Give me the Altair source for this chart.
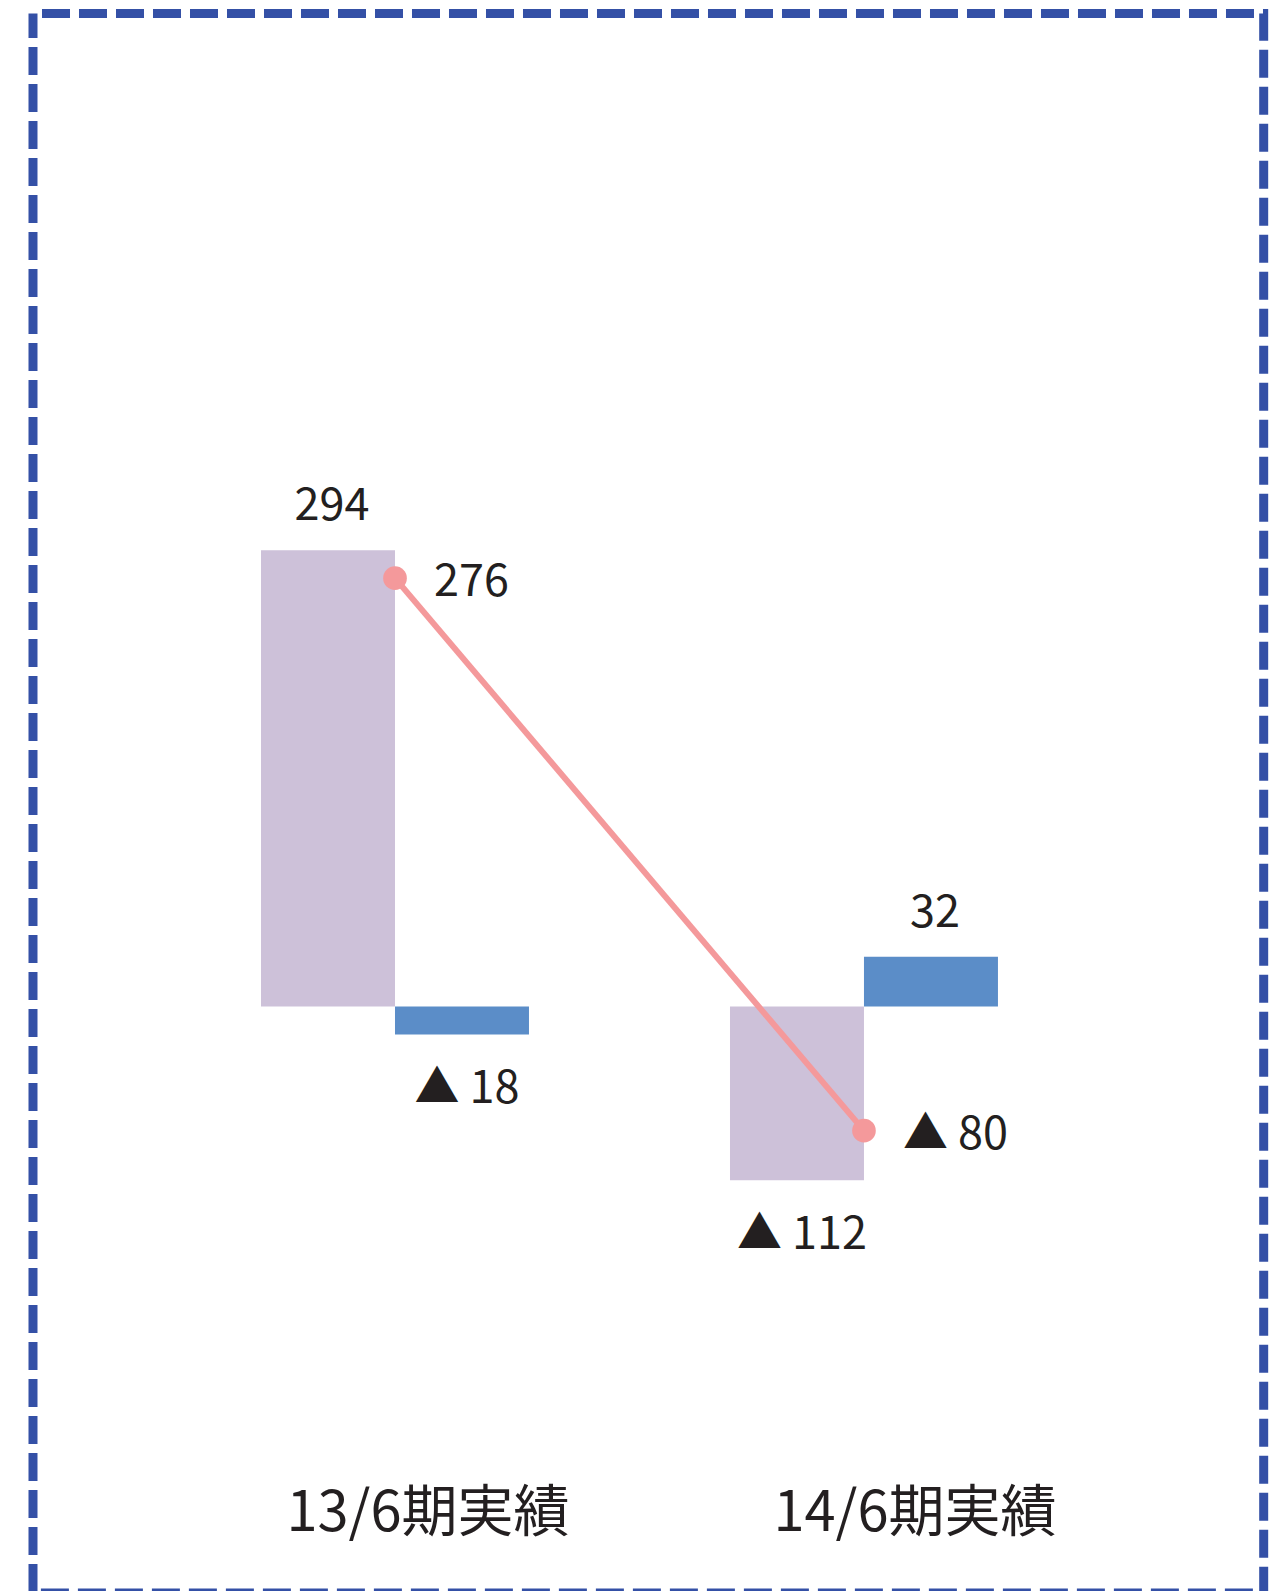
import altair as alt
import pandas as pd

categories = ["13/6期実績", "14/6期実績"]
series_names = ["前期", "増減"]
base_values = [294, -112]
change_values = [-18, 32]
line_values = [276, -80]

bar_colors = ["#CDC1D9", "#5B8DC8"]
pink = "#F4999B"
ink = "#231F20"
label_font = "Noto Sans CJK JP"


def fmt(v):
    return f"{v}" if v >= 0 else f"▲ {abs(v)}"


rows = []
for i, c in enumerate(categories):
    rows.append({"category": c, "series": series_names[0], "value": base_values[i], "label": fmt(base_values[i])})
    rows.append({"category": c, "series": series_names[1], "value": change_values[i], "label": fmt(change_values[i])})
bars_df = pd.DataFrame(rows)

line_df = pd.DataFrame({
    "category": categories,
    "value": line_values,
    "label": [fmt(v) for v in line_values],
})

x_enc = alt.X(
    "category:N",
    sort=categories,
    scale=alt.Scale(paddingInner=0.4286, paddingOuter=0.5264, align=0.4618),
    axis=alt.Axis(
        title=None,
        domain=False,
        ticks=False,
        grid=False,
        labelAngle=0,
        labelFont="Noto Sans CJK JP",
        labelFontSize=56,
        labelColor=ink,
        labelBaseline="middle",
        labelPadding=0,
        labelLimit=0,
        offset=-79,
        labelOffset={"condition": {"test": "datum.value === '13/6期実績'", "value": 33}, "value": 51},
    ),
)
y_enc = alt.Y(
    "value:Q",
    scale=alt.Scale(domain=[-377.9, 639.8], nice=False, zero=False),
    axis=None,
)
xoff = alt.XOffset("series:N", sort=series_names, scale=alt.Scale(paddingInner=0, paddingOuter=0))

base = alt.Chart(bars_df)

bars = base.mark_bar().encode(
    x=x_enc,
    xOffset=xoff,
    y=y_enc,
    y2=alt.datum(0),
    color=alt.Color("series:N", scale=alt.Scale(domain=series_names, range=bar_colors), legend=None),
)

pos_labels = base.transform_filter("datum.value >= 0").mark_text(
    font=label_font, fontSize=45, color=ink, baseline="alphabetic", align="center", dy=-30, dx=4
).encode(x=x_enc, xOffset=xoff, y=y_enc, text="label:N")

neg_labels = base.transform_filter("datum.value < 0").mark_text(
    font=label_font, fontSize=45, color=ink, baseline="alphabetic", align="center", dy=69, dx=5
).encode(x=x_enc, xOffset=xoff, y=y_enc, text="label:N")

lbase = alt.Chart(line_df)
line = lbase.mark_line(color=pink, strokeWidth=6).encode(x=x_enc, y=y_enc)
points = lbase.mark_circle(color=pink, size=560, opacity=1).encode(x=x_enc, y=y_enc)
line_labels = lbase.mark_text(
    font=label_font, fontSize=45, color=ink, align="left", baseline="middle", dx=39, dy=4
).encode(x=x_enc, y=y_enc, text="label:N")

chart = alt.layer(bars, line, points, pos_labels, neg_labels, line_labels).properties(
    width=1230.7,
    height=1579.5,
    padding={"left": 25, "top": 5.5, "right": 6, "bottom": 0},
    autosize=alt.AutoSizeParams(type="none"),
    background="white",
).configure_view(
    stroke="#3450A6", strokeWidth=9, strokeDash=[28, 9], strokeDashOffset=28
)

chart.save("out.html", embed_options={"renderer": "svg", "actions": False})
